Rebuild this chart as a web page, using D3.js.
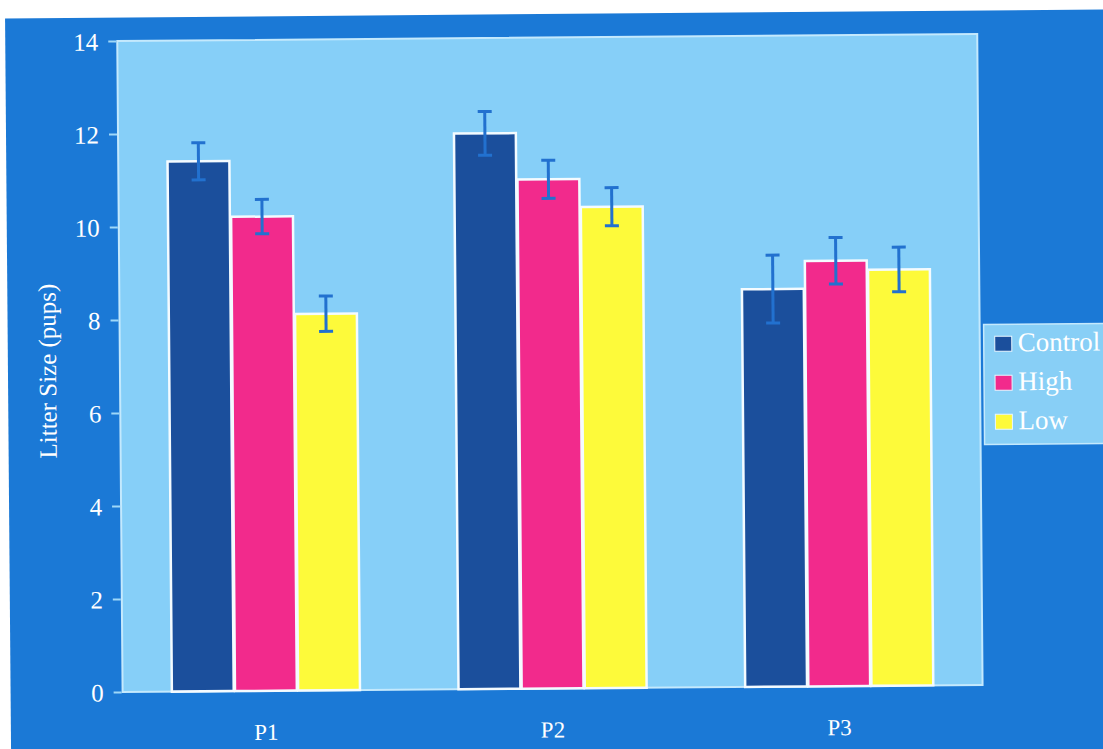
<!DOCTYPE html>
<html>
<head>
<meta charset="utf-8">
<script src="https://cdn.jsdelivr.net/npm/d3@7"></script>
<style>
  html, body { margin: 0; padding: 0; background: #ffffff; }
  svg { display: block; }
  text { font-family: "Liberation Serif", "Times New Roman", serif; fill: #ffffff; }
</style>
</head>
<body>
<svg id="chart" width="1103" height="749"></svg>
<script>
// Litter size by parity and treatment group
const parities = ["P1", "P2", "P3"];
const groups = ["Control", "High", "Low"];
const controlMeans = [11.4, 11.95, 8.55];
const highMeans = [10.2, 10.95, 9.15];
const lowMeans = [8.1, 10.35, 8.95];
const controlErr = [0.4, 0.47, 0.73];
const highErr = [0.37, 0.41, 0.5];
const lowErr = [0.38, 0.41, 0.48];
const yTicks = [0, 2, 4, 6, 8, 10, 12, 14];

const colors = { Control: "#1b4f9c", High: "#f22a8c", Low: "#fdfa3a" };

const rows = parities.map((p, i) => ({
  parity: p,
  values: [
    { group: "Control", mean: controlMeans[i], err: controlErr[i] },
    { group: "High", mean: highMeans[i], err: highErr[i] },
    { group: "Low", mean: lowMeans[i], err: lowErr[i] }
  ]
}));

const svg = d3.select("#chart");
const W = 1103, H = 749;
const plot = { left: 120, right: 980, top: 37.5, bottom: 688.5 };

// slide is scanned with a slight counter-clockwise tilt
const root = svg.append("g").attr("transform", "rotate(-0.47, 551, 374)");

// slide background
root.append("rect")
  .attr("x", 8).attr("y", 14)
  .attr("width", W + 40).attr("height", H + 40)
  .attr("fill", "#1b79d6");

// plot area
root.append("rect")
  .attr("x", plot.left).attr("y", plot.top)
  .attr("width", plot.right - plot.left).attr("height", plot.bottom - plot.top)
  .attr("fill", "#86cff8")
  .attr("stroke", "#c4e9fd").attr("stroke-width", 2);

const x0 = d3.scaleBand()
  .domain(parities)
  .range([plot.left, plot.right])
  .paddingInner(0.335)
  .paddingOuter(0.1675);

const x1 = d3.scaleBand()
  .domain(groups)
  .range([0, x0.bandwidth()])
  .padding(0.02);

const y = d3.scaleLinear().domain([0, 14]).range([plot.bottom, plot.top]);

// y axis: ticks and labels
const yAxis = d3.axisLeft(y).tickValues(yTicks).tickSize(8).tickPadding(10).tickFormat(d3.format("d"));
const yg = root.append("g").attr("transform", `translate(${plot.left - 1},0)`).call(yAxis);
yg.select(".domain").remove();
yg.selectAll(".tick line").attr("stroke", "#9fd8f8").attr("stroke-width", 2);
yg.selectAll(".tick text")
  .attr("fill", "#ffffff")
  .style("font-family", "'Liberation Serif', 'Times New Roman', serif")
  .style("font-size", "25px")
  .attr("dy", "0.35em");

// x axis labels
const xAxis = d3.axisBottom(x0).tickSize(0).tickPadding(0);
const xg = root.append("g").attr("transform", `translate(0,${plot.bottom})`).call(xAxis);
xg.select(".domain").remove();
xg.selectAll(".tick text")
  .attr("fill", "#ffffff")
  .attr("y", 49)
  .attr("dy", 0)
  .style("font-family", "'Liberation Serif', 'Times New Roman', serif")
  .style("font-size", "23px");

// y axis title
root.append("text")
  .attr("transform", `translate(56,367) rotate(-90)`)
  .attr("text-anchor", "middle")
  .style("font-size", "25px")
  .text("Litter Size (pups)");

// bars
const gGroups = root.selectAll(".grp").data(rows).join("g")
  .attr("class", "grp")
  .attr("transform", d => `translate(${x0(d.parity)},0)`);

gGroups.selectAll("rect.bar").data(d => d.values).join("rect")
  .attr("class", "bar")
  .attr("x", d => x1(d.group))
  .attr("y", d => y(d.mean))
  .attr("width", x1.bandwidth())
  .attr("height", d => y(0) - y(d.mean))
  .attr("fill", d => colors[d.group])
  .attr("stroke", "#f4fbff").attr("stroke-width", 2.5);

// error bars
const eb = gGroups.selectAll("g.err").data(d => d.values).join("g")
  .attr("class", "err")
  .attr("transform", d => `translate(${x1(d.group) + x1.bandwidth() / 2},0)`)
  .attr("stroke", "#2271cf").attr("stroke-width", 3);
eb.append("line").attr("x1", 0).attr("x2", 0)
  .attr("y1", d => y(d.mean + d.err)).attr("y2", d => y(d.mean - d.err));
eb.append("line").attr("x1", -7).attr("x2", 7)
  .attr("y1", d => y(d.mean + d.err)).attr("y2", d => y(d.mean + d.err));
eb.append("line").attr("x1", -7).attr("x2", 7)
  .attr("y1", d => y(d.mean - d.err)).attr("y2", d => y(d.mean - d.err));

// legend
const leg = root.append("g").attr("transform", "translate(984,328)");
leg.append("rect")
  .attr("x", 0).attr("y", 0).attr("width", 140).attr("height", 120)
  .attr("fill", "#88cff6")
  .attr("stroke", "#c4e9fd").attr("stroke-width", 1.5);
const li = leg.selectAll("g.item").data(groups).join("g")
  .attr("class", "item")
  .attr("transform", (d, i) => `translate(11,${12 + i * 39})`);
li.append("rect")
  .attr("x", 0).attr("y", 0).attr("width", 17).attr("height", 15)
  .attr("fill", d => colors[d])
  .attr("stroke", "#e8f6ff").attr("stroke-width", 1);
li.append("text")
  .attr("x", 23).attr("y", 15)
  .style("font-size", "27px")
  .text(d => d);
</script>
</body>
</html>
